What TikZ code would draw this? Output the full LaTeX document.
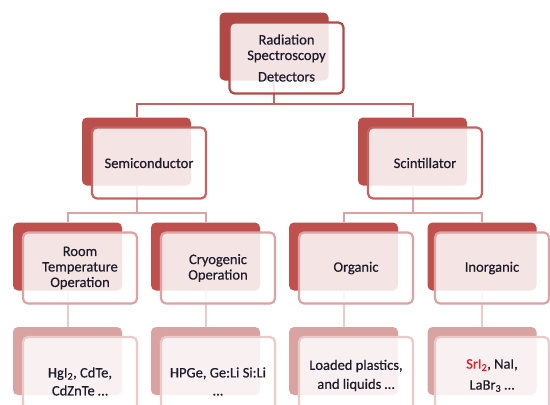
\documentclass[tikz,border=0pt]{standalone}
\usepackage{fontspec}
\setmainfont{Carlito}[FakeBold=0.5]
\usetikzlibrary{positioning}
\definecolor{BackOne}{HTML}{B04845}
\definecolor{BackTwo}{HTML}{BB4F4C}
\definecolor{BackThree}{HTML}{C0504D}
\definecolor{BackFour}{HTML}{D9A3A2}
\definecolor{LineOne}{HTML}{B24A47}
\definecolor{LineTwo}{HTML}{C66361}
\definecolor{LineThree}{HTML}{DDA3A2}
\definecolor{LineFour}{HTML}{EBCACA}
\definecolor{TxtCol}{HTML}{1C1C2A}
\definecolor{AlertRed}{HTML}{F01818}
\tikzstyle{back} = [rectangle, rounded corners=5pt, minimum width=109pt, minimum height=68pt, inner sep=0pt]
\tikzstyle{front} = [rectangle, rounded corners=5pt, minimum width=114pt, minimum height=71pt, inner sep=0pt, fill=white, fill opacity=0.85, text opacity=1, line width=2.2pt, align=center, text=TxtCol, font=\fontsize{14.5}{15.5}\selectfont]
\tikzstyle{conn} = [line width=2pt]

\begin{document}
\begin{tikzpicture}[x=1pt,y=-1pt]
    \useasboundingbox (0,0) rectangle (550,405);
    % back boxes
    \node[back, fill=BackOne] (rsdB) at (274,46.5){};
    \node[back, fill=BackTwo] (semiB) at (136.5,151.5){};
    \node[back, fill=BackTwo] (scintB) at (412.5,151.5){};
    \node[back, fill=BackThree] (roomB) at (67.5,256.5){};
    \node[back, fill=BackThree] (cryoB) at (205.5,256.5){};
    \node[back, fill=BackThree] (orgB) at (343.5,256.5){};
    \node[back, fill=BackThree] (inorgB) at (482,256.5){};
    \node[back, fill=BackFour] (hgiB) at (67.5,361){};
    \node[back, fill=BackFour] (hpgeB) at (205.5,361){};
    \node[back, fill=BackFour] (loadedB) at (343.5,361){};
    \node[back, fill=BackFour] (sriB) at (482,361){};
    % connectors
    \draw[conn, LineTwo] (rsdB.south) -- ++(0,23) -| (semiB.north);
    \draw[conn, LineTwo] (rsdB.south) -- ++(0,23) -| (scintB.north);
    \draw[conn, LineThree] (semiB.south) -- ++(0,27) -| (roomB.north);
    \draw[conn, LineThree] (semiB.south) -- ++(0,27) -| (cryoB.north);
    \draw[conn, LineThree] (scintB.south) -- ++(0,27) -| (orgB.north);
    \draw[conn, LineThree] (scintB.south) -- ++(0,27) -| (inorgB.north);
    \draw[conn, LineFour] (roomB.south) -- (hgiB.north);
    \draw[conn, LineFour] (cryoB.south) -- (hpgeB.north);
    \draw[conn, LineFour] (orgB.south) -- (loadedB.north);
    \draw[conn, LineFour] (inorgB.south) -- (sriB.north);
    % front boxes
    \node[front, draw=LineOne] (rsd) at (286.5,58){Radiation\\Spectroscopy\\[6pt]Detectors};
    \node[front, draw=LineTwo] (semi) at (149,163){Semiconductor};
    \node[front, draw=LineTwo] (scint) at (425,163){Scintillator};
    \node[front, draw=LineThree] (room) at (80,268){Room\\Temperature\\Operation};
    \node[front, draw=LineThree] (cryo) at (218,268){Cryogenic\\Operation};
    \node[front, draw=LineThree] (org) at (356,268){Organic};
    \node[front, draw=LineThree] (inorg) at (492,268){Inorganic};
    % bottom row is cut by the page edge
    \node[front, draw=LineFour, minimum height=89pt, font=\fontsize{14.5}{18}\selectfont] (hgi) at (80,381.5){HgI\textsubscript{2}, CdTe,\\CdZnTe \dots};
    \node[front, draw=LineFour, minimum height=89pt, font=\fontsize{14.5}{18}\selectfont] (hpge) at (218,381.5){HPGe, Ge:Li Si:Li\\\dots};
    \node[front, draw=LineFour, minimum height=77pt, font=\fontsize{14.5}{19}\selectfont] (loaded) at (356,375.5){Loaded plastics,\\and liquids \dots};
    \node[front, draw=LineFour, minimum height=77pt, font=\fontsize{14.5}{21}\selectfont] (sri) at (492,375.5){{\color{AlertRed}SrI\textsubscript{2}}, NaI,\\LaBr\textsubscript{3} \dots};
\end{tikzpicture}
\end{document}
